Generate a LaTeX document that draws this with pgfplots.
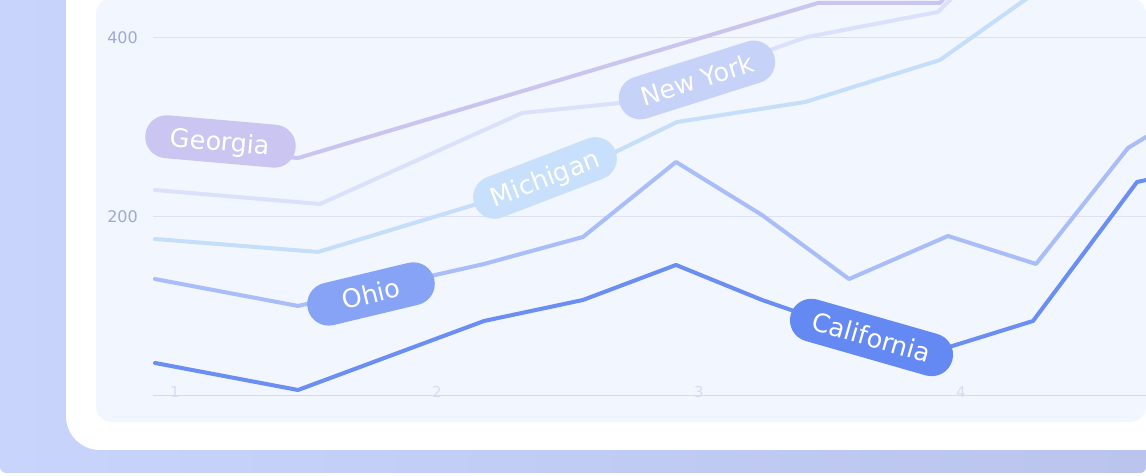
\documentclass[border=0pt]{standalone}
\usepackage{fontspec}
\setmainfont{DejaVu Sans}
\usepackage{pgfplots}
\pgfplotsset{compat=1.18}
\definecolor{bgL}{HTML}{C8D4FB}
\definecolor{bgR}{HTML}{BAC4ED}
\definecolor{panel}{HTML}{F2F6FE}
\definecolor{gridc}{HTML}{DDE0F7}
\definecolor{basec}{HTML}{D6DAF0}
\definecolor{ytc}{HTML}{A2A8D2}
\definecolor{xtc}{HTML}{D9DCEF}
\definecolor{calL}{HTML}{6A8EF2}
\definecolor{calP}{HTML}{6489F3}
\definecolor{ohioL}{HTML}{A9BDF8}
\definecolor{ohioP}{HTML}{87A3F6}
\definecolor{micL}{HTML}{C5DEFA}
\definecolor{micP}{HTML}{C8E0FB}
\definecolor{nyL}{HTML}{DCE1FB}
\definecolor{nyP}{HTML}{C6D2F8}
\definecolor{geoL}{HTML}{CAC5EF}
\definecolor{geoP}{HTML}{CAC6F1}
\newcommand\labelfont{\fontsize{25.5}{25.5}\selectfont}
\tikzset{pill/.style={text=white, rounded corners=21.5pt, minimum height=43pt, inner sep=0pt, text height=18.5pt, text depth=0pt, font=\labelfont}}
\begin{document}
\begin{tikzpicture}[x=1pt,y=1pt]
\fill[white] (0,0) rectangle (1146,476);
\shade[left color=bgL, right color=bgR, rounded corners=6pt] (0,3) rectangle (1146,500);
\fill[white, rounded corners=34pt] (66,26) rectangle (1220,540);
\fill[panel, rounded corners=16pt] (96,54) rectangle (1146,478);
\begin{axis}[
  at={(153pt,80pt)}, anchor=south west,
  x=262pt, y=0.895pt,
  xmin=0.91603, xmax=4.70611, ymin=0, ymax=442.5,
  axis line style={draw=none},
  major tick length=0pt,
  ytick={200,400}, xtick={1,2,3,4},
  ymajorgrids, grid style={gridc, line width=1pt},
  extra y ticks={0}, extra y tick labels={},
  extra y tick style={grid=major, major grid style={basec, line width=1pt}},
  /pgf/number format/assume math mode=true,
  yticklabel style={font=\fontsize{16}{16}\selectfont, text=ytc, anchor=east, xshift=-15pt, inner sep=0pt},
  xticklabel style={font=\fontsize{15}{15}\selectfont, text=xtc, anchor=center, yshift=4pt},
  clip mode=individual,
]
% Georgia
\addplot[geoL, line width=4pt, line join=round, line cap=round] coordinates {
(0.9237,280.4) (1.4695,265.9) (3.4542,439.1) (3.9198,439.1) (3.9962,464.8)};
% New York
\addplot[nyL, line width=4pt, line join=round, line cap=round] coordinates {
(0.9237,230.2) (1.5534,214.5) (2.3244,316.2) (2.6985,327.4) (3.4122,401.1) (3.9122,429.1) (4.0725,476.0)};
% Michigan
\addplot[micL, line width=4pt, line join=round, line cap=round] coordinates {
(0.9237,175.4) (1.5458,160.9) (2.4695,242.5) (2.9160,306.1) (3.4046,328.5) (3.9198,375.4) (4.3779,470.4)};
% Ohio
\addplot[ohioL, line width=4pt, line join=round, line cap=round] coordinates {
(0.9237,130.7) (1.4695,100.6) (2.1794,147.5) (2.5573,177.7) (2.9122,261.5) (3.2405,202.2) (3.5725,130.7) (3.9504,178.8) (4.2863,147.5) (4.6374,277.1) (4.7061,289.4) (4.7977,299.4)};
% California
\addplot[calL, line width=4pt, line join=round, line cap=round] coordinates {
(0.9237,36.9) (1.4695,6.7) (2.1794,83.8) (2.5573,107.3) (2.9122,146.4) (3.2405,107.3) (3.5725,73.7) (3.9542,54.7) (4.2748,83.8) (4.6718,239.1) (4.7061,241.3) (4.7977,245.8)};
\node[pill, fill=geoP, minimum width=151pt, rotate=-5] at (axis cs:1.1737,284.4) {Georgia};
\node[pill, fill=nyP, minimum width=162pt, rotate=17.5] at (axis cs:2.9924,353.1) {New York};
\node[pill, fill=micP, minimum width=151pt, rotate=21] at (axis cs:2.4122,243.6) {Michigan};
\node[pill, fill=ohioP, minimum width=130pt, rotate=13.5] at (axis cs:1.7481,114.0) {Ohio};
\node[pill, fill=calP, minimum width=168pt, rotate=-16] at (axis cs:3.6584,65.4) {California};
\end{axis}
\pgfresetboundingbox
\path[use as bounding box] (0,0) rectangle (1146,476);
\end{tikzpicture}
\end{document}
